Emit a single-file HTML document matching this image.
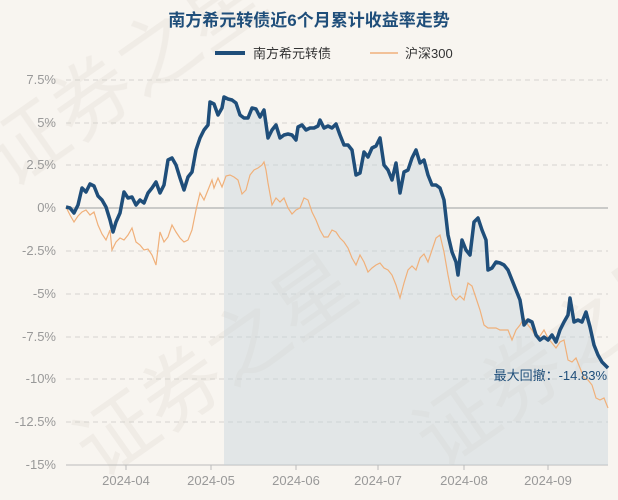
<!DOCTYPE html>
<html><head><meta charset="utf-8"><style>
html,body{margin:0;padding:0;background:#f8f5f0;overflow:hidden;}
svg{display:block;}
svg text{font-family:"Liberation Sans","Noto Sans CJK SC",sans-serif;}
</style></head><body>
<svg width="618" height="500" xmlns="http://www.w3.org/2000/svg">
<rect width="618" height="500" fill="#f8f5f0"/>
<g fill="#ebe6e0" font-size="80" opacity="0.6">
<text x="10" y="190" transform="rotate(-35 10 190)">证券之星</text>
<text x="100" y="480" transform="rotate(-35 100 480)">证券之星</text>
<text x="440" y="470" transform="rotate(-35 440 470)">证券之星</text>
</g>
<text x="309" y="26" text-anchor="middle" font-size="17" font-weight="bold" fill="#1f4e7a">南方希元转债近6个月累计收益率走势</text>
<line x1="215" y1="53" x2="245" y2="53" stroke="#1f4e7a" stroke-width="4"/>
<text x="253" y="58" font-size="13" fill="#333">南方希元转债</text>
<line x1="370" y1="53" x2="398" y2="53" stroke="#f0b07a" stroke-width="1.5"/>
<text x="405" y="58" font-size="13" fill="#333">沪深300</text>
<g stroke="#d6d3cf" stroke-dasharray="5,4" stroke-width="1">
<line x1="66" y1="80" x2="608" y2="80"/><line x1="66" y1="123" x2="608" y2="123"/><line x1="66" y1="165" x2="608" y2="165"/>
<line x1="66" y1="251" x2="608" y2="251"/><line x1="66" y1="294" x2="608" y2="294"/><line x1="66" y1="337" x2="608" y2="337"/>
<line x1="66" y1="379" x2="608" y2="379"/><line x1="66" y1="422" x2="608" y2="422"/>
</g>
<line x1="66" y1="208" x2="608" y2="208" stroke="#bbb" stroke-width="1.5"/>
<line x1="66" y1="465" x2="608" y2="465" stroke="#bbb" stroke-width="1"/>
<g font-size="13" fill="#999" text-anchor="end">
<text x="56" y="84">7.5%</text><text x="56" y="127">5%</text><text x="56" y="169">2.5%</text><text x="56" y="212">0%</text>
<text x="56" y="255">-2.5%</text><text x="56" y="298">-5%</text><text x="56" y="341">-7.5%</text><text x="56" y="383">-10%</text>
<text x="56" y="426">-12.5%</text><text x="56" y="469">-15%</text>
</g>
<g font-size="13" fill="#999" text-anchor="middle">
<text x="126" y="485">2024-04</text><text x="211" y="485">2024-05</text><text x="296" y="485">2024-06</text>
<text x="378" y="485">2024-07</text><text x="464" y="485">2024-08</text><text x="548" y="485">2024-09</text>
</g>
<g stroke="#bbb"><line x1="126" y1="465" x2="126" y2="470"/><line x1="211" y1="465" x2="211" y2="470"/><line x1="296" y1="465" x2="296" y2="470"/><line x1="378" y1="465" x2="378" y2="470"/><line x1="464" y1="465" x2="464" y2="470"/><line x1="548" y1="465" x2="548" y2="470"/></g>
<polygon fill="#c8d4dc" opacity="0.45" points="224,465 224,97 228,99 232,100 236,103 240,115 244,118 248,118 252,108 256,109 260,117 264,110 268,138 272,130 276,125 280,138 284,135 288,134 292,135 296,140 298,127 302,125 306,130 310,128 314,128 318,126 320,120 324,128 328,126 332,128 336,124 340,135 344,145 348,145 352,150 356,175 360,173 364,152 368,157 372,148 376,146 380,138 384,165 388,170 392,180 396,163 400,193 404,172 408,170 412,158 416,150 420,163 424,160 428,175 432,185 436,185 440,188 444,200 448,235 452,252 456,262 458,275 462,240 466,250 470,255 474,222 478,218 482,230 486,240 488,270 492,268 496,262 500,263 504,265 508,270 512,280 516,290 520,300 524,325 528,320 532,322 536,335 540,340 544,337 548,340 552,335 556,342 560,330 564,322 568,315 570,298 574,322 578,320 582,322 586,312 590,327 594,345 598,355 602,362 606,366 608,368 608,465"/>
<polyline fill="none" stroke="#f0b07a" stroke-width="1.2" points="66,207 70,215 74,222 78,216 82,212 86,210 90,215 94,212 98,225 102,234 106,240 110,230 112,250 116,242 120,238 124,240 128,235 132,228 136,242 140,245 144,250 148,249 152,255 156,265 160,232 164,242 168,237 172,225 176,232 180,238 184,242 188,240 192,230 196,210 200,193 204,200 208,190 212,180 214,188 218,178 222,187 226,176 230,175 234,177 238,180 242,194 246,190 250,175 254,170 258,168 262,165 264,162 266,170 268,183 272,205 276,198 280,202 284,198 288,208 292,214 296,210 300,208 304,198 308,200 312,212 316,220 320,230 324,237 328,237 332,230 336,232 340,238 344,242 348,248 352,258 356,265 360,255 364,262 368,272 372,268 376,265 380,263 384,268 388,270 392,275 396,285 400,298 404,283 408,270 412,266 416,270 420,258 424,254 428,262 432,250 436,238 440,235 444,252 448,275 452,295 456,300 460,296 464,300 468,283 472,286 476,298 480,310 484,325 488,328 492,328 496,328 500,330 504,330 508,330 512,340 516,330 520,325 524,318 528,325 532,330 536,337 540,336 544,330 548,338 552,343 556,348 560,342 564,340 568,360 572,362 576,358 580,368 584,378 588,380 592,385 596,398 600,400 604,398 608,408"/>
<polyline fill="none" stroke="#1f4e7a" stroke-width="3.5" stroke-linejoin="round" points="66,207 70,208 74,213 78,205 82,188 86,192 90,184 94,186 98,196 102,200 106,207 110,220 113,232 116,222 120,213 124,192 128,198 132,197 136,205 140,200 144,203 148,193 152,188 156,182 160,193 164,185 168,160 172,158 176,165 180,178 184,190 188,177 192,172 196,150 200,138 204,130 208,125 210,102 214,104 218,115 222,108 224,97 228,99 232,100 236,103 240,115 244,118 248,118 252,108 256,109 260,117 264,110 268,138 272,130 276,125 280,138 284,135 288,134 292,135 296,140 298,127 302,125 306,130 310,128 314,128 318,126 320,120 324,128 328,126 332,128 336,124 340,135 344,145 348,145 352,150 356,175 360,173 364,152 368,157 372,148 376,146 380,138 384,165 388,170 392,180 396,163 400,193 404,172 408,170 412,158 416,150 420,163 424,160 428,175 432,185 436,185 440,188 444,200 448,235 452,252 456,262 458,275 462,240 466,250 470,255 474,222 478,218 482,230 486,240 488,270 492,268 496,262 500,263 504,265 508,270 512,280 516,290 520,300 524,325 528,320 532,322 536,335 540,340 544,337 548,340 552,335 556,342 560,330 564,322 568,315 570,298 574,322 578,320 582,322 586,312 590,327 594,345 598,355 602,362 606,366 608,368"/>
<text x="607" y="380" text-anchor="end" font-size="13" fill="#1f4e7a">最大回撤：-14.83%</text>
</svg>
</body></html>
